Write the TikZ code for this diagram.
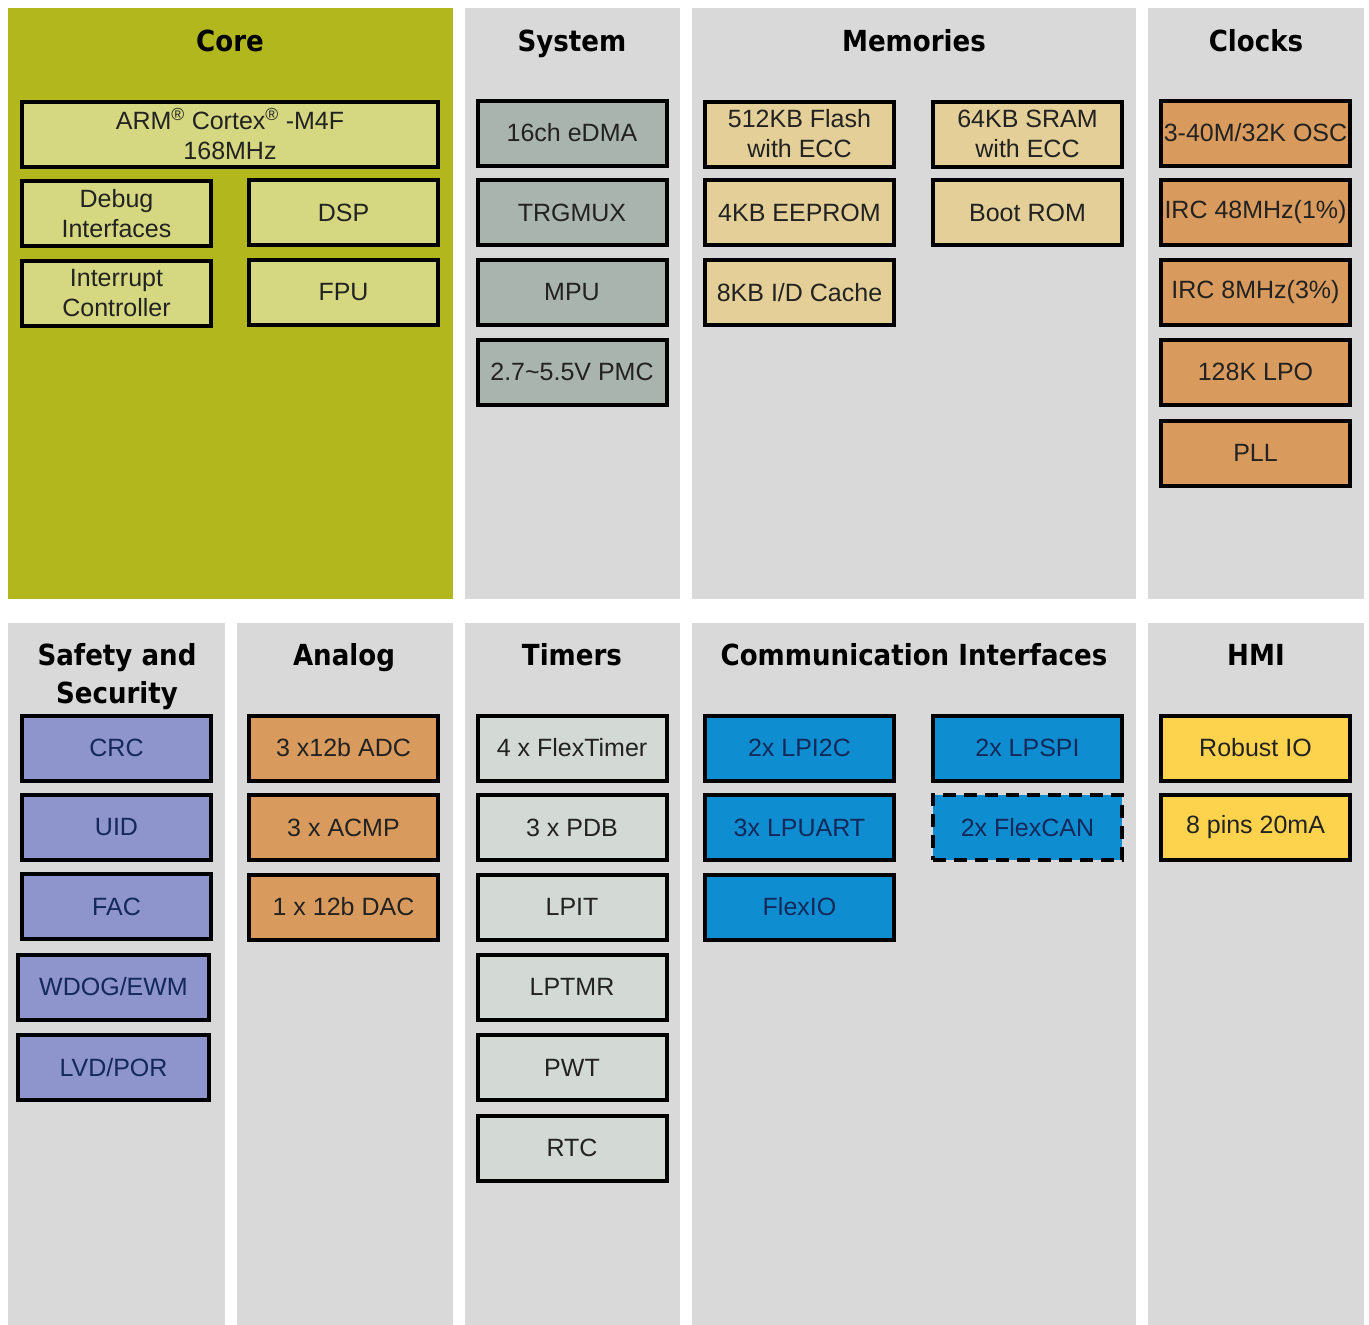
\documentclass[tikz,border=0pt]{standalone}
\usepackage{fontspec}
\setmainfont{Liberation Sans}
\newfontfamily\titlefont[FakeStretch=0.9]{DejaVu Sans}
\definecolor{panelgrey}{HTML}{D9D9D9}
\definecolor{coreolive}{HTML}{B2B71E}
\definecolor{corebox}{HTML}{D5D880}
\definecolor{sysbox}{HTML}{A9B4AE}
\definecolor{membox}{HTML}{E3CF97}
\definecolor{orangebox}{HTML}{D89B5D}
\definecolor{safebox}{HTML}{8E94CC}
\definecolor{timbox}{HTML}{D3DAD6}
\definecolor{combox}{HTML}{0E8ED0}
\definecolor{hmibox}{HTML}{FDD34E}
\definecolor{txt}{HTML}{222222}
\definecolor{navy}{HTML}{14285A}
\tikzset{
  panel/.style={fill=panelgrey, draw=none},
  blk/.style={draw=black, line width=4pt, minimum width=189pt, minimum height=65pt,
    inner sep=0pt, align=center, font=\fontsize{25}{30}\selectfont, text=txt},
  ttl/.style={font=\titlefont\bfseries\fontsize{29}{38}\selectfont, text=black, anchor=base, align=center, inner sep=0pt}
}
\begin{document}
\begin{tikzpicture}[x=1pt, y=-1pt]
\useasboundingbox[fill=white] (0,0) rectangle (1369,1325);
% panels
\path[fill=coreolive] (8,8) rectangle (453,599);
\path[panel] (465,8) rectangle (680,599);
\path[panel] (692,8) rectangle (1136,599);
\path[panel] (1148,8) rectangle (1364,599);
\path[panel] (8,623) rectangle (225,1325);
\path[panel] (237,623) rectangle (453,1325);
\path[panel] (465,623) rectangle (680,1325);
\path[panel] (692,623) rectangle (1136,1325);
\path[panel] (1148,623) rectangle (1364,1325);
% titles
\node[ttl] (tcore) at (230,51) {Core};
\node[ttl] (tsys) at (572,51) {System};
\node[ttl] (tmem) at (914,51) {Memories};
\node[ttl] (tclk) at (1256,51) {Clocks};
\node[ttl] (tsafe) at (117,703) {Safety and\\Security};
\node[ttl] (tana) at (344,665) {Analog};
\node[ttl] (ttim) at (572,665) {Timers};
\node[ttl] (tcom) at (914,665) {Communication Interfaces};
\node[ttl] (thmi) at (1256,665) {HMI};
% core
\node[blk, fill=corebox, minimum width=416pt] (arm) at (230,134) {ARM\textsuperscript{®} Cortex\textsuperscript{®} -M4F\\168MHz};
\node[blk, fill=corebox] (dbg) at (116.5,213.5) {Debug\\Interfaces};
\node[blk, fill=corebox] (dsp) at (343.5,212.5) {DSP};
\node[blk, fill=corebox] (intc) at (116.5,293.5) {Interrupt\\Controller};
\node[blk, fill=corebox] (fpu) at (343.5,292.5) {FPU};
% system
\node[blk, fill=sysbox] (edma) at (572,133) {16ch eDMA};
\node[blk, fill=sysbox] (trg) at (572,212.5) {TRGMUX};
\node[blk, fill=sysbox] (mpu) at (572,292.5) {MPU};
\node[blk, fill=sysbox] (pmc) at (572,372) {2.7\textasciitilde5.5V PMC};
% memories
\node[blk, fill=membox] (flash) at (799.5,134) {512KB Flash\\with ECC};
\node[blk, fill=membox] (eep) at (799.5,212.5) {4KB EEPROM};
\node[blk, fill=membox] (cache) at (799.5,292.5) {8KB I/D Cache};
\node[blk, fill=membox] (sram) at (1027.5,134) {64KB SRAM\\with ECC};
\node[blk, fill=membox] (brom) at (1027.5,212.5) {Boot ROM};
% clocks
\node[blk, fill=orangebox] (osc) at (1255.5,133) {3-40M/32K OSC};
\node[blk, fill=orangebox] (irc48) at (1255.5,212.5) {IRC 48MHz(1\%)};
\node[blk, fill=orangebox] (irc8) at (1255.5,292.5) {IRC 8MHz(3\%)};
\node[blk, fill=orangebox] (lpo) at (1255.5,372) {128K LPO};
\node[blk, fill=orangebox] (pll) at (1255.5,453) {PLL};
% safety
\node[blk, fill=safebox, text=navy] (crc) at (116.5,748) {CRC};
\node[blk, fill=safebox, text=navy] (uid) at (116.5,827.5) {UID};
\node[blk, fill=safebox, text=navy] (fac) at (116.5,906.5) {FAC};
\node[blk, fill=safebox, text=navy, minimum width=191pt] (wdog) at (113.5,987) {WDOG/EWM};
\node[blk, fill=safebox, text=navy, minimum width=191pt] (lvd) at (113.5,1067.5) {LVD/POR};
% analog
\node[blk, fill=orangebox] (adc) at (343.5,748) {3 x12b ADC};
\node[blk, fill=orangebox] (acmp) at (343.5,827.5) {3 x ACMP};
\node[blk, fill=orangebox] (dac) at (343.5,907) {1 x 12b DAC};
% timers
\node[blk, fill=timbox] (ftm) at (572,748) {4 x FlexTimer};
\node[blk, fill=timbox] (pdb) at (572,827.5) {3 x PDB};
\node[blk, fill=timbox] (lpit) at (572,907) {LPIT};
\node[blk, fill=timbox] (lptmr) at (572,987) {LPTMR};
\node[blk, fill=timbox] (pwt) at (572,1067.5) {PWT};
\node[blk, fill=timbox] (rtc) at (572,1148) {RTC};
% communication
\node[blk, fill=combox, text=navy] (i2c) at (799.5,748) {2x LPI2C};
\node[blk, fill=combox, text=navy] (uart) at (799.5,827.5) {3x LPUART};
\node[blk, fill=combox, text=navy] (fio) at (799.5,907) {FlexIO};
\node[blk, fill=combox, text=navy] (spi) at (1027.5,748) {2x LPSPI};
\node[blk, fill=combox, text=navy, dash pattern=on 13pt off 8pt] (can) at (1027.5,827.5) {2x FlexCAN};
% HMI
\node[blk, fill=hmibox] (rio) at (1255.5,748) {Robust IO};
\node[blk, fill=hmibox] (pins) at (1255.5,827.5) {8 pins 20mA};
\end{tikzpicture}
\end{document}
